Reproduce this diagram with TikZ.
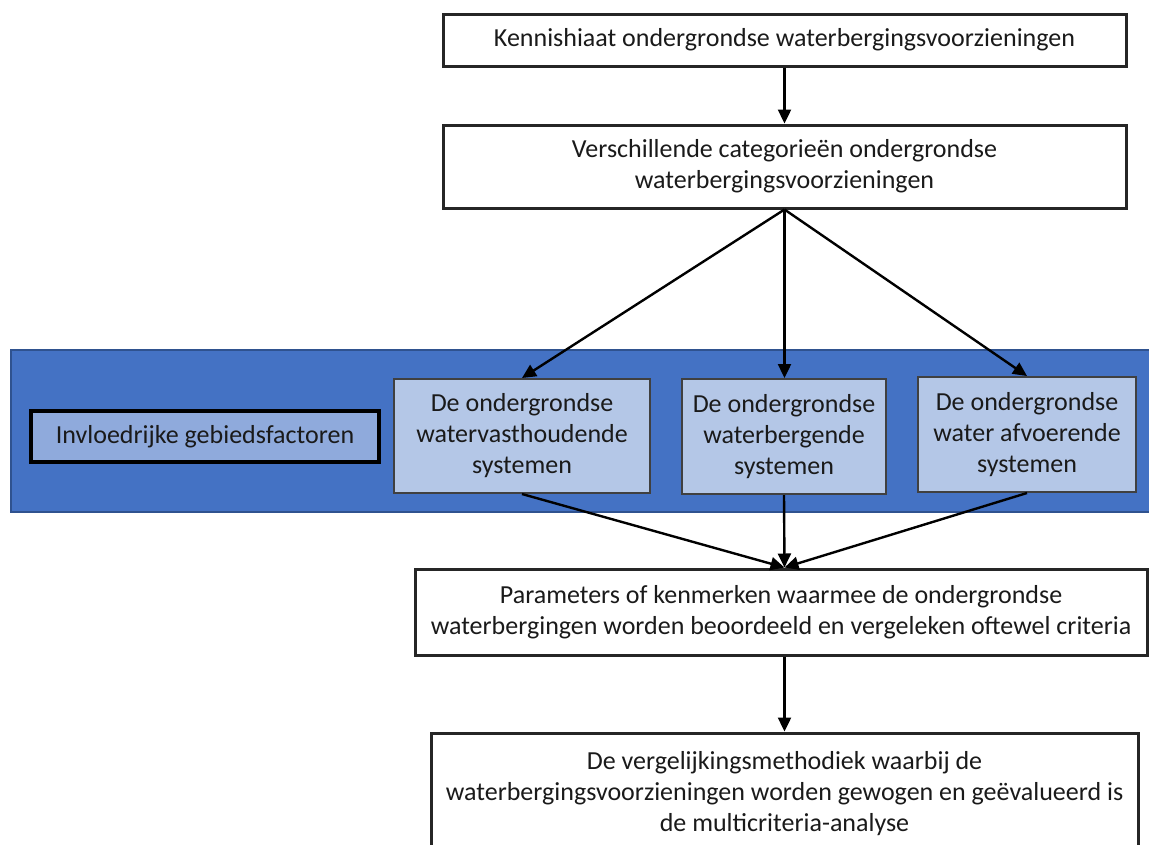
\documentclass[tikz,border=0pt]{standalone}
\usepackage{fontspec}
\setmainfont{Carlito}
\usetikzlibrary{arrows.meta,calc}
\definecolor{bandblue}{HTML}{4472C4}
\definecolor{bandedge}{HTML}{2F528F}
\definecolor{lightbox}{HTML}{B4C7E7}
\definecolor{midbox}{HTML}{8FAADC}
\definecolor{txt}{HTML}{1A1A1A}
\tikzset{
  whitebox/.style={draw=black!85, line width=3pt, fill=white, align=center, text=txt, inner sep=0pt},
  sysbox/.style={draw=black!75, line width=2pt, fill=lightbox, align=center, text=txt, inner sep=0pt},
  factorbox/.style={draw=black, line width=3.4pt, fill=midbox, align=center, text=txt, inner sep=0pt},
  arr/.style={line width=2.4pt, -{Triangle[length=14pt,width=13pt]}},
}
\begin{document}
\begin{tikzpicture}[x=1pt,y=-1pt,font=\fontsize{26pt}{31pt}\selectfont]
\useasboundingbox (0,0) rectangle (1149,844);
\clip (0,0) rectangle (1149,844);
\fill[white] (0,0) rectangle (1149,844);
% band
\draw[fill=bandblue, draw=bandedge, line width=1.6pt] (11,350) rectangle (1160,512);
\node[whitebox, minimum width=683pt, minimum height=52pt] (top) at (784.5,40) {Kennishiaat ondergrondse waterbergingsvoorzieningen};
\node[whitebox, minimum width=683pt, minimum height=83pt] (cat) at (784.5,166.5) {Verschillende categorieën ondergrondse\\waterbergingsvoorzieningen};
\node[factorbox, minimum width=348pt, minimum height=51pt] (inv) at (205,436.5) {Invloedrijke gebiedsfactoren};
\node[sysbox, minimum width=256pt, minimum height=114pt] (s1) at (522,436) {De ondergrondse\\watervasthoudende\\systemen};
\node[sysbox, minimum width=204pt, minimum height=115pt] (s2) at (784,436.5) {De ondergrondse\\waterbergende\\systemen};
\node[sysbox, minimum width=218pt, minimum height=115pt] (s3) at (1027,434.5) {De ondergrondse\\water afvoerende\\systemen};
\node[whitebox, minimum width=732pt, minimum height=86pt] (par) at (781,612) {Parameters of kenmerken waarmee de ondergrondse\\waterbergingen worden beoordeeld en vergeleken oftewel criteria};
\node[whitebox, minimum width=707pt, minimum height=122pt] (vgl) at (784.5,794) {De vergelijkingsmethodiek waarbij de\\waterbergingsvoorzieningen worden gewogen en geëvalueerd is\\de multicriteria-analyse};
% connectors
\draw[arr] (top.south) -- (cat.north);
\draw[arr] (cat.south) -- (s1.north);
\draw[arr] (cat.south) -- (cat.south |- s2.north);
\draw[arr] (cat.south) -- (s3.north);
\draw[arr] (s1.south) -- (top.south |- par.north);
\draw[arr] (s2.south) -- (top.south |- par.north);
\draw[arr] (s3.south) -- (top.south |- par.north);
\draw[arr] (top.south |- par.south) -- (top.south |- vgl.north);
\end{tikzpicture}
\end{document}
